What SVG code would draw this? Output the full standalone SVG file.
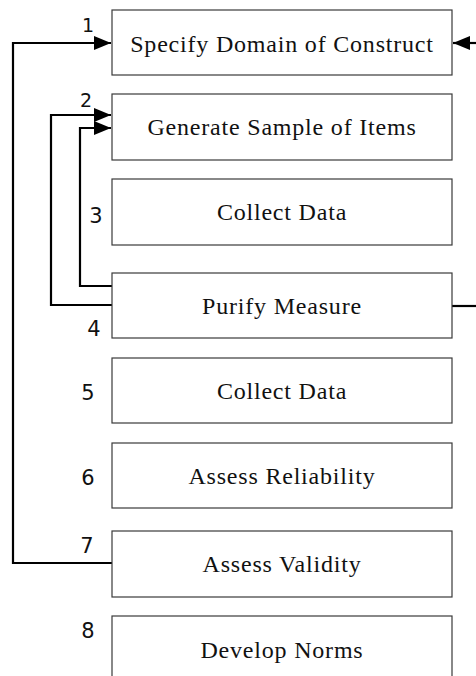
<svg xmlns="http://www.w3.org/2000/svg" width="476" height="676" viewBox="0 0 476 676">
<style>
.box{fill:#fff;stroke:#3a3a3a;stroke-width:1.2}
.lbl{font-family:"Liberation Serif","Times New Roman",serif;font-size:24px;letter-spacing:0.8px;text-anchor:middle;fill:#111}
.num{font-family:"DejaVu Sans","Liberation Sans",sans-serif;font-size:21px;text-anchor:middle;fill:#111}
.sm{font-size:19px}
.con{fill:none;stroke:#000;stroke-width:2.2}
</style>
<defs>
<marker id="ah" markerUnits="userSpaceOnUse" markerWidth="18" markerHeight="14" refX="17" refY="7" orient="auto">
<path d="M0,0 L17,7 L0,14 Z" fill="#000"/>
</marker>
</defs>
<rect width="476" height="676" fill="#fff"/>
<g id="connectors">
<path class="con" d="M112,563 H13 V43 H111" marker-end="url(#ah)"/>
<path class="con" d="M112,305 H51 V115 H111" marker-end="url(#ah)"/>
<path class="con" d="M112,286 H80 V128 H111" marker-end="url(#ah)"/>
<path class="con" d="M476,43 H453" marker-end="url(#ah)"/>
<path class="con" d="M452,306 H476"/>
</g>
<g id="n1"><rect class="box" x="112" y="10" width="340" height="65"/><text class="lbl" x="282" y="52">Specify Domain of Construct</text><text class="num sm" x="88" y="32">1</text></g>
<g id="n2"><rect class="box" x="112" y="94" width="340" height="66"/><text class="lbl" x="282" y="135">Generate Sample of Items</text><text class="num sm" x="86" y="107">2</text></g>
<g id="n3"><rect class="box" x="112" y="179" width="340" height="66"/><text class="lbl" x="282" y="220">Collect Data</text><text class="num" x="96" y="223">3</text></g>
<g id="n4"><rect class="box" x="112" y="273" width="340" height="65"/><text class="lbl" x="282" y="314">Purify Measure</text><text class="num" x="94" y="336">4</text></g>
<g id="n5"><rect class="box" x="112" y="358" width="340" height="65"/><text class="lbl" x="282" y="399">Collect Data</text><text class="num" x="88" y="400">5</text></g>
<g id="n6"><rect class="box" x="112" y="443" width="340" height="65"/><text class="lbl" x="282" y="484">Assess Reliability</text><text class="num" x="88" y="485">6</text></g>
<g id="n7"><rect class="box" x="112" y="531" width="340" height="66"/><text class="lbl" x="282" y="572">Assess Validity</text><text class="num" x="87" y="553">7</text></g>
<g id="n8"><rect class="box" x="112" y="616" width="340" height="80"/><text class="lbl" x="282" y="658">Develop Norms</text><text class="num" x="88" y="638">8</text></g>
</svg>
